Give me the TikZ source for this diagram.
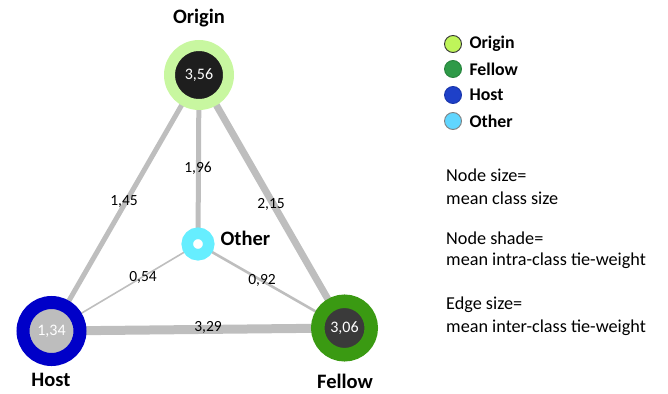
\documentclass[tikz,border=0pt]{standalone}
\usepackage{fontspec}
\setmainfont{Carlito}
\usetikzlibrary{backgrounds}
\definecolor{edgegray}{HTML}{BEBEBE}
\definecolor{origring}{HTML}{C8F7A0}
\definecolor{origcore}{HTML}{1E1E1E}
\definecolor{hostring}{HTML}{0000C8}
\definecolor{hostcore}{HTML}{BDBDBD}
\definecolor{fellring}{HTML}{3A9A12}
\definecolor{fellcore}{HTML}{3A3A3A}
\definecolor{othring}{HTML}{66EEFF}
\definecolor{legorig}{HTML}{BFF55A}
\definecolor{legfell}{HTML}{2E9A48}
\definecolor{leghost}{HTML}{1E40C8}
\definecolor{legoth}{HTML}{60D6FF}
\tikzset{
  classnode/.style={circle, inner sep=0pt, outer sep=0pt, text=white, font=\fontsize{16}{18}\selectfont},
  classlabel/.style={font=\bfseries\fontsize{20.5}{24}\selectfont},
  weight/.style={font=\fontsize{15.5}{18}\selectfont, inner sep=0pt},
  edge/.style={draw=edgegray},
  legdot/.style={circle, inner sep=0pt, minimum size=17pt, line width=0.9pt},
  legtext/.style={anchor=west, font=\bfseries\fontsize{17.8}{21}\selectfont},
  note/.style={anchor=west, font=\fontsize{18.2}{21}\selectfont, inner sep=0pt},
}
\begin{document}
\begin{tikzpicture}[x=1pt, y=-1pt]
\useasboundingbox (0,0) rectangle (668,393);

% class nodes: ring colour = class, core shade = intra-class tie-weight
\node[classnode, minimum size=59pt, line width=11pt, draw=origring, fill=origcore] (origin) at (199,75) {3,56};
\node[classnode, minimum size=57pt, line width=13pt, draw=hostring, fill=hostcore] (host) at (51.5,331) {1,34};
\node[classnode, minimum size=53.5pt, line width=13.5pt, draw=fellring, fill=fellcore] (fellow) at (344.5,328) {3,06};
\node[classnode, minimum size=21.5pt, line width=11.5pt, draw=othring, fill=white] (other) at (198,244) {};

% class names
\node[classlabel] (lorigin) at (199,18) {Origin};
\node[classlabel] (lhost) at (51,380) {Host};
\node[classlabel] (lfellow) at (345,381) {Fellow};
\node[classlabel, anchor=west] (lother) at (217,238) {Other};

% inter-class edges, width = tie-weight
\begin{scope}[on background layer]
\draw[edge, line width=5pt] (origin) -- (host);
\draw[edge, line width=7pt] (origin) -- (fellow);
\draw[edge, line width=5pt] (origin) -- (other);
\draw[edge, line width=9pt] (host) -- (fellow);
\draw[edge, line width=1.6pt] (other) -- (host);
\draw[edge, line width=2.6pt] (other) -- (fellow);
\end{scope}

% edge weights
\node[weight] (w1) at (124,202) {1,45};
\node[weight] (w2) at (198,168) {1,96};
\node[weight] (w3) at (271,204) {2,15};
\node[weight] (w4) at (143,277) {0,54};
\node[weight] (w5) at (262,280) {0,92};
\node[weight] (w6) at (208,327) {3,29};

% legend
\node[legdot, draw=black!80, fill=legorig] (d1) at (453,44) {};
\node[legdot, draw=legfell!85!black, fill=legfell] (d2) at (453,69) {};
\node[legdot, draw=leghost!85!black, fill=leghost] (d3) at (453,95) {};
\node[legdot, draw=gray, fill=legoth] (d4) at (453,121) {};
\node[legtext] (t1) at (466,44) {Origin};
\node[legtext] (t2) at (466,69) {Fellow};
\node[legtext] (t3) at (466,95) {Host};
\node[legtext] (t4) at (466,121) {Other};

% explanatory notes
\node[note] (n1) at (446,175) {Node size=};
\node[note] (n2) at (446,198) {mean class size};
\node[note] (n3) at (446,238) {Node shade=};
\node[note] (n4) at (446,261) {mean intra-class tie-weight};
\node[note] (n5) at (446,305) {Edge size=};
\node[note] (n6) at (446,328) {mean inter-class tie-weight};
\end{tikzpicture}
\end{document}
